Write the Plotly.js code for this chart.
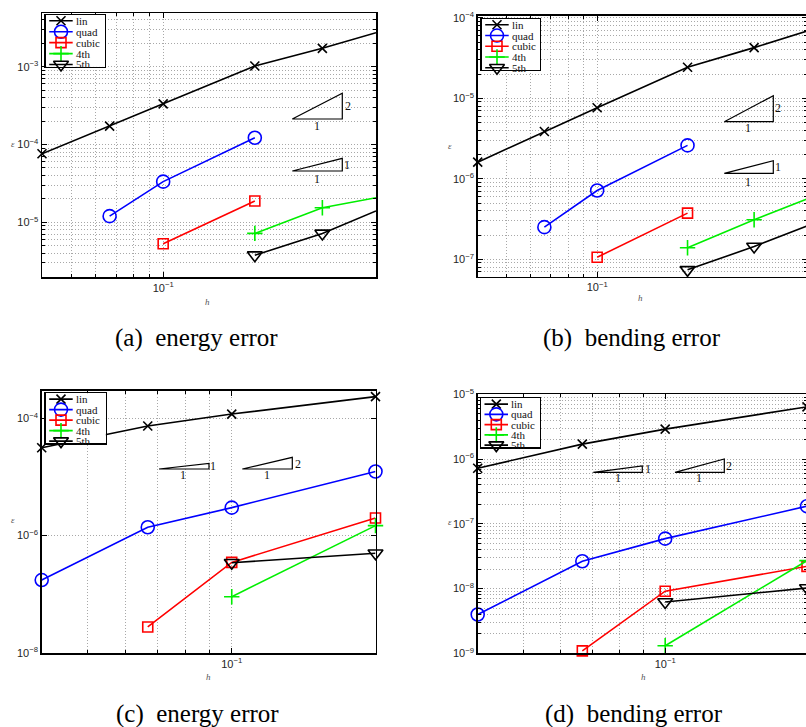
<!DOCTYPE html>
<html><head><meta charset="utf-8">
<script src="https://cdn.plot.ly/plotly-3.0.1.min.js"></script>
<style>html,body{margin:0;padding:0;overflow:hidden;background:#fff}#chart{width:810px;height:727px}</style>
</head><body><div id="chart"></div><script>
// ---------------- data ----------------
const seriesNames = ['lin', 'quad', 'cubic', '4th', '5th'];

// mesh sizes h
const hLinAB   = [0.04, 0.0667, 0.1, 0.2, 0.3333, 0.5];
const hQuadAB  = [0.0667, 0.1, 0.2];
const hCubicAB = [0.1, 0.2];
const hHighAB  = [0.2, 0.3333, 0.5];
const hLinCD   = [0.04, 0.0667, 0.1, 0.2];
const hCubicCD = [0.0667, 0.1, 0.2];
const hHighCD  = [0.1, 0.2];

// (a) energy error
const aLin   = [7.6e-5, 1.72e-4, 3.33e-4, 1.02e-3, 1.72e-3, 2.73e-3];
const aQuad  = [1.2e-5, 3.33e-5, 1.22e-4];
const aCubic = [5.3e-6, 1.88e-5];
const a4th   = [7.2e-6, 1.54e-5, 2.07e-5];
const a5th   = [3.78e-6, 7.2e-6, 1.4e-5];
// (b) bending error
const bLin   = [1.61e-6, 3.87e-6, 7.64e-6, 2.43e-5, 4.26e-5, 6.85e-5];
const bQuad  = [2.51e-7, 7.16e-7, 2.6e-6];
const bCubic = [1.06e-7, 3.75e-7];
const b4th   = [1.39e-7, 3.1e-7, 5.6e-7];
const b5th   = [7.4e-8, 1.44e-7, 2.6e-7];
// (c) energy error
const cLin   = [3.15e-5, 7.4e-5, 1.18e-4, 2.34e-4];
const cQuad  = [1.75e-7, 1.39e-6, 3.0e-6, 1.24e-5];
const cCubic = [2.78e-8, 3.5e-7, 2.0e-6];
const c4th   = [9.1e-8, 1.48e-6];
const c5th   = [3.45e-7, 5.0e-7];
// (d) bending error
const dLin   = [7.2e-7, 1.7e-6, 2.9e-6, 6.4e-6];
const dQuad  = [3.97e-9, 2.64e-8, 5.9e-8, 1.87e-7];
const dCubic = [1.09e-9, 9.1e-9, 2.2e-8];
const d4th   = [1.31e-9, 2.7e-8];
const d5th   = [6.2e-9, 1.02e-8];

const captions = ['(a)\u2002energy error', '(b)\u2002bending error', '(c)\u2002energy error', '(d)\u2002bending error'];

// ---------------- styling / layout ----------------
const W = 810, H = 727;
const X = p => p / W, Y = p => 1 - p / H;

const styles = [
  {color: '#000000', symbol: 'x-thin-open',        size: 9},
  {color: '#0000ff', symbol: 'circle-open',        size: 13},
  {color: '#ff0000', symbol: 'square-open',        size: 10},
  {color: '#00ee00', symbol: 'cross-thin-open',    size: 11},
  {color: '#000000', symbol: 'triangle-down-open', size: 13}
];

const panels = [
  {box: [42, 376, 13.3, 277],    xmax: 0.5, yr: [-5.703, -2.314], dec: [-5, -4, -3],          minorY: true,
   series: [[hLinAB, aLin], [hQuadAB, aQuad], [hCubicAB, aCubic], [hHighAB, a4th], [hHighAB, a5th]],
   leg: [45.7, 105, 15, 66.7], eps: [13.3, 144], hl: [207.7, 301.7], cap: [196, 338],
   tri: [{x0: 292.3, x1: 342.3, yb: 119, yt: 93.3, r: [347.7, 106], s: '2', b: [316.7, 125.7]},
         {x0: 292.3, x1: 342.3, yb: 171, yt: 158.3, r: [347.3, 165], s: '1', b: [316.7, 179]}]},
  {box: [477.7, 807, 15.7, 276.7], xmax: 0.5, yr: [-7.216, -3.974], dec: [-7, -6, -5, -4],    minorY: true,
   series: [[hLinAB, bLin], [hQuadAB, bQuad], [hCubicAB, bCubic], [hHighAB, b4th], [hHighAB, b5th]],
   leg: [481.7, 540, 19, 70], eps: [450, 145.7], hl: [640, 298.5], cap: [632, 338],
   tri: [{x0: 724.3, x1: 773.3, yb: 121.7, yt: 95.7, r: [777.5, 108.3], s: '2', b: [748.3, 128.3]},
         {x0: 724.3, x1: 773.3, yb: 173.3, yt: 160.7, r: [778, 166.7], s: '1', b: [748.3, 181.7]}]},
  {box: [41.7, 375.5, 390.7, 653], xmax: 0.2, yr: [-8, -3.53], dec: [-8, -6, -4],             minorY: false,
   series: [[hLinCD, cLin], [hLinCD, cQuad], [hCubicCD, cCubic], [hHighCD, c4th], [hHighCD, c5th]],
   leg: [45.7, 105.7, 393.3, 443.3], eps: [12.7, 520], hl: [208.3, 676.7], cap: [197, 714],
   tri: [{x0: 159, x1: 209, yb: 469, yt: 463.3, r: [213.3, 466], s: '1', b: [183.3, 475]},
         {x0: 242.3, x1: 292.3, yb: 469, yt: 457.3, r: [297.7, 463.7], s: '2', b: [266.7, 475]}]},
  {box: [477.7, 807, 394.3, 653.3], xmax: 0.2, yr: [-9, -5], dec: [-9, -8, -7, -6, -5],    minorY: true,
   series: [[hLinCD, dLin], [hLinCD, dQuad], [hCubicCD, dCubic], [hHighCD, d4th], [hHighCD, d5th]],
   leg: [481, 540, 398.3, 447.3], eps: [450, 522.3], hl: [643.3, 676.7], cap: [634, 714],
   tri: [{x0: 593.3, x1: 642.3, yb: 472.3, yt: 466, r: [647.7, 469.3], s: '1', b: [617.7, 478.3]},
         {x0: 675, x1: 724.3, yb: 472.3, yt: 459, r: [729.3, 466], s: '2', b: [699.3, 478.3]}]}
];

const GRID = '#a8a8a8', DASH = '1px,2px';
const tickFont = {family: 'Liberation Sans, Arial, sans-serif', size: 11, color: '#262626'};
const serif = 'Liberation Serif, Times New Roman, serif';

function minorDecades(e0, e1) {
  const v = [];
  for (let e = e0; e <= e1; e++) for (let k = 2; k <= 9; k++) v.push(k * Math.pow(10, e));
  return v;
}

const data = [], shapes = [], annotations = [];
const layout = {
  width: W, height: H, margin: {l: 0, r: 0, t: 0, b: 0},
  paper_bgcolor: '#fff', plot_bgcolor: '#fff', showlegend: false,
  shapes, annotations
};

panels.forEach((p, i) => {
  const n = i + 1, ln = i + 5;
  const [x0, x1, y0, y1] = p.box;
  layout['xaxis' + n] = {
    type: 'log', domain: [X(x0), X(x1)], range: [Math.log10(0.04), Math.log10(p.xmax)],
    anchor: 'y' + n, showline: true, linecolor: '#000', linewidth: 1.5, mirror: 'ticks',
    ticks: 'inside', ticklen: 5, tickwidth: 1, tickcolor: '#000',
    tickmode: 'array', tickvals: [0.1], ticktext: ['10<sup>\u22121</sup>'],
    showgrid: true, gridcolor: GRID, griddash: DASH, gridwidth: 1, zeroline: false,
    tickfont: tickFont,
    minor: {tickmode: 'array', tickvals: [0.05, 0.06, 0.07, 0.08, 0.09], ticks: 'inside', ticklen: 3,
            tickcolor: '#000', showgrid: true, gridcolor: GRID, griddash: DASH, gridwidth: 1}
  };
  const yax = {
    type: 'log', domain: [Y(y1), Y(y0)], range: p.yr, anchor: 'x' + n,
    showline: true, linecolor: '#000', linewidth: 1.5, mirror: 'ticks',
    ticks: 'inside', ticklen: 5, tickwidth: 1, tickcolor: '#000',
    tickmode: 'array', tickvals: p.dec.map(e => Math.pow(10, e)),
    ticktext: p.dec.map(e => '10<sup>\u2212' + (-e) + '</sup>'),
    showgrid: true, gridcolor: GRID, griddash: DASH, gridwidth: 1, zeroline: false,
    tickfont: tickFont
  };
  if (p.minorY) {
    yax.minor = {tickmode: 'array', tickvals: minorDecades(p.dec[0] - 1, p.dec[p.dec.length - 1]),
                 ticks: 'inside', ticklen: 3, tickcolor: '#000', showgrid: true,
                 gridcolor: GRID, griddash: DASH, gridwidth: 1};
  }
  layout['yaxis' + n] = yax;

  // data series
  p.series.forEach(([xs, ys], k) => {
    const s = styles[k];
    data.push({type: 'scatter', mode: 'lines+markers', x: xs, y: ys, name: seriesNames[k],
      xaxis: 'x' + n, yaxis: 'y' + n, cliponaxis: false, hoverinfo: 'skip',
      line: {color: s.color, width: 1.6},
      marker: {symbol: s.symbol, size: s.size, color: s.color, line: {color: s.color, width: 1.6}}});
  });

  // legend box (its own small axes)
  const [lx0, lx1, ly0, ly1] = p.leg;
  const bw = lx1 - lx0, bh = ly1 - ly0;
  layout['xaxis' + ln] = {domain: [X(lx0), X(lx1)], range: [0, bw], anchor: 'y' + ln,
    showline: true, mirror: true, linecolor: '#000', linewidth: 1.3,
    showgrid: false, zeroline: false, showticklabels: false, ticks: '', fixedrange: true};
  layout['yaxis' + ln] = {domain: [Y(ly1), Y(ly0)], range: [bh, 0], anchor: 'x' + ln,
    showline: true, mirror: true, linecolor: '#000', linewidth: 1.3,
    showgrid: false, zeroline: false, showticklabels: false, ticks: '', fixedrange: true};
  data.push({type: 'scatter', mode: 'lines', x: [0, bw, bw, 0, 0], y: [0, 0, bh, bh, 0],
    fill: 'toself', fillcolor: '#fff', line: {width: 0}, xaxis: 'x' + ln, yaxis: 'y' + ln, hoverinfo: 'skip'});
  const step = (bh - 8) / 4;
  seriesNames.forEach((nm, k) => {
    const s = styles[k];
    const ry = 5.8 + step * k;
    data.push({type: 'scatter', mode: 'lines', x: [3.5, 27], y: [ry, ry], xaxis: 'x' + ln, yaxis: 'y' + ln,
      line: {color: s.color, width: 1.6}, hoverinfo: 'skip', cliponaxis: false});
    data.push({type: 'scatter', mode: 'markers', x: [15.3], y: [ry], xaxis: 'x' + ln, yaxis: 'y' + ln,
      marker: {symbol: s.symbol, size: s.size, color: s.color, line: {color: s.color, width: 1.6}},
      hoverinfo: 'skip', cliponaxis: false});
    annotations.push({xref: 'x' + ln, yref: 'y' + ln, x: 28, y: ry, text: nm, showarrow: false,
      xanchor: 'left', yanchor: 'middle', font: {family: serif, size: 11, color: '#111'}});
  });

  // slope triangles
  p.tri.forEach(t => {
    shapes.push({type: 'path', xref: 'paper', yref: 'paper',
      path: `M ${X(t.x0)},${Y(t.yb)} L ${X(t.x1)},${Y(t.yb)} L ${X(t.x1)},${Y(t.yt)} Z`,
      line: {color: '#000', width: 1.2}});
    annotations.push({xref: 'paper', yref: 'paper', x: X(t.r[0]), y: Y(t.r[1]), text: t.s, showarrow: false,
      xanchor: 'center', yanchor: 'middle', font: {family: serif, size: 12, color: '#111'}});
    annotations.push({xref: 'paper', yref: 'paper', x: X(t.b[0]), y: Y(t.b[1]), text: '1', showarrow: false,
      xanchor: 'center', yanchor: 'middle', font: {family: serif, size: 12, color: '#111'}});
  });

  // axis labels
  annotations.push({xref: 'paper', yref: 'paper', x: X(p.eps[0]), y: Y(p.eps[1]), text: '<i>\u03b5</i>',
    showarrow: false, xanchor: 'center', yanchor: 'middle', font: {family: serif, size: 9, color: '#555'}});
  annotations.push({xref: 'paper', yref: 'paper', x: X(p.hl[0]), y: Y(p.hl[1]), text: '<i>h</i>',
    showarrow: false, xanchor: 'center', yanchor: 'middle', font: {family: serif, size: 9, color: '#555'}});
  // caption
  annotations.push({xref: 'paper', yref: 'paper', x: X(p.cap[0]), y: Y(p.cap[1]), text: captions[i],
    showarrow: false, xanchor: 'center', yanchor: 'middle', font: {family: serif, size: 25, color: '#000'}});
});

Plotly.newPlot('chart', data, layout, {staticPlot: true, displayModeBar: false});
</script></body></html>
